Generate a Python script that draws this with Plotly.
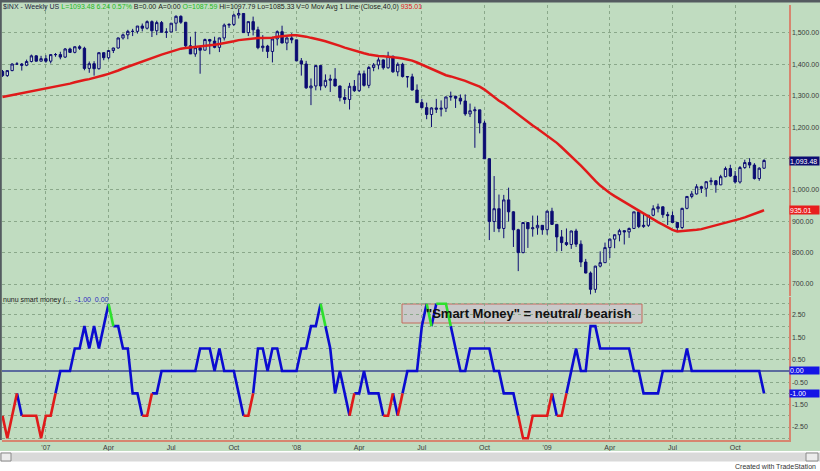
import numpy as np
import pandas as pd
import plotly.graph_objects as go

# ---------------- data ----------------
first_week = "2006-11-03"
n_weeks = 159
week_dates = pd.date_range(first_week, periods=n_weeks, freq="W-FRI")

opens = [1377, 1364, 1380, 1401, 1401, 1397, 1409, 1427, 1410, 1418,
         1410, 1431, 1431, 1423, 1449, 1438, 1456, 1451, 1387, 1402,
         1386, 1437, 1421, 1444, 1452, 1484, 1494, 1505, 1505, 1522,
         1515, 1536, 1507, 1533, 1502, 1503, 1531, 1553, 1534, 1459,
         1433, 1453, 1445, 1479, 1474, 1454, 1484, 1525, 1527, 1557,
         1562, 1501, 1536, 1510, 1453, 1458, 1441, 1481, 1504, 1468,
         1484, 1478, 1411, 1401, 1325, 1331, 1396, 1331, 1349, 1353,
         1331, 1294, 1288, 1330, 1316, 1370, 1333, 1390, 1398, 1414,
         1389, 1426, 1376, 1400, 1361, 1360, 1318, 1278, 1262, 1240,
         1261, 1257, 1260, 1296, 1298, 1292, 1283, 1242, 1252, 1255,
         1213, 1099, 899, 940, 877, 968, 930, 873, 800, 896,
         876, 879, 887, 873, 932, 890, 850, 832, 826, 869,
         827, 770, 735, 683, 757, 768, 816, 843, 857, 870,
         866, 877, 930, 883, 887, 919, 940, 946, 921, 918,
         896, 880, 941, 979, 987, 1010, 1005, 1026, 1029, 1016,
         1042, 1068, 1044, 1025, 1071, 1087, 1079, 1036, 1069]

highs = [1382, 1381, 1403, 1407, 1404, 1415, 1431, 1429, 1427, 1429,
         1432, 1436, 1440, 1452, 1453, 1457, 1461, 1456, 1409, 1410,
         1438, 1438, 1444, 1453, 1485, 1498, 1510, 1513, 1522, 1530,
         1540, 1540, 1539, 1538, 1515, 1531, 1556, 1556, 1535, 1488,
         1504, 1456, 1482, 1481, 1488, 1485, 1530, 1531, 1561, 1576,
         1563, 1536, 1552, 1520, 1493, 1462, 1488, 1508, 1523, 1486,
         1499, 1478, 1420, 1411, 1355, 1396, 1396, 1368, 1367, 1388,
         1332, 1321, 1341, 1350, 1380, 1380, 1395, 1404, 1422, 1416,
         1440, 1427, 1406, 1405, 1362, 1370, 1336, 1290, 1278, 1263,
         1290, 1285, 1297, 1313, 1300, 1304, 1304, 1275, 1265, 1255,
         1220, 1101, 1044, 985, 984, 1007, 932, 876, 897, 897,
         918, 918, 888, 934, 943, 890, 872, 877, 870, 876,
         839, 780, 740, 758, 804, 832, 845, 858, 876, 871,
         880, 930, 931, 924, 920, 951, 956, 947, 930, 931,
         898, 943, 980, 996, 1018, 1013, 1027, 1039, 1031, 1048,
         1074, 1080, 1060, 1076, 1096, 1101, 1085, 1072, 1097.79]

lows = [1360, 1360, 1378, 1398, 1380, 1394, 1406, 1409, 1409, 1405,
        1403, 1424, 1416, 1420, 1437, 1435, 1446, 1381, 1373, 1364,
        1383, 1413, 1416, 1436, 1450, 1479, 1480, 1490, 1498, 1505,
        1511, 1487, 1493, 1502, 1484, 1503, 1506, 1529, 1451, 1433,
        1424, 1370, 1445, 1432, 1451, 1439, 1476, 1516, 1522, 1546,
        1500, 1490, 1492, 1448, 1440, 1420, 1406, 1460, 1467, 1445,
        1467, 1411, 1364, 1322, 1270, 1317, 1317, 1325, 1312, 1330,
        1282, 1274, 1256, 1312, 1312, 1329, 1324, 1378, 1384, 1383,
        1386, 1373, 1362, 1358, 1326, 1317, 1277, 1260, 1225, 1200,
        1245, 1234, 1248, 1284, 1261, 1272, 1236, 1232, 1134, 1180,
        1099, 840, 866, 865, 846, 899, 818, 741, 798, 815,
        851, 857, 857, 857, 888, 804, 805, 821, 812, 818,
        754, 734, 667, 672, 753, 767, 783, 814, 836, 826,
        847, 876, 878, 879, 882, 916, 928, 911, 888, 895,
        869, 875, 938, 973, 985, 990, 978, 1015, 991, 1015,
        1040, 1041, 1020, 1020, 1067, 1069, 1033, 1029, 1067]

closes = [1364, 1380, 1401, 1401, 1397, 1409, 1427, 1410, 1418, 1410,
          1431, 1431, 1423, 1449, 1438, 1456, 1451, 1387, 1402, 1386,
          1437, 1421, 1444, 1452, 1484, 1494, 1505, 1505, 1522, 1515,
          1536, 1507, 1533, 1502, 1503, 1531, 1553, 1534, 1459, 1433,
          1453, 1445, 1479, 1474, 1454, 1484, 1525, 1527, 1557, 1562,
          1501, 1536, 1510, 1453, 1458, 1441, 1481, 1504, 1468, 1484,
          1478, 1411, 1401, 1325, 1331, 1396, 1331, 1349, 1353, 1331,
          1294, 1288, 1330, 1316, 1370, 1333, 1390, 1398, 1414, 1389,
          1426, 1376, 1400, 1361, 1360, 1318, 1278, 1262, 1240, 1261,
          1257, 1260, 1296, 1298, 1292, 1283, 1242, 1252, 1255, 1213,
          1099, 899, 940, 877, 968, 930, 873, 800, 896, 876,
          879, 887, 873, 932, 890, 850, 832, 826, 869, 827,
          770, 735, 683, 757, 768, 816, 843, 857, 870, 866,
          877, 930, 883, 887, 919, 940, 946, 921, 918, 896,
          880, 941, 979, 987, 1010, 1005, 1026, 1029, 1016, 1042,
          1068, 1044, 1025, 1071, 1087, 1079, 1036, 1069, 1093.48]

# 39 weekly closes before the first visible bar (feed the 40-week average)
prior_closes = [1264, 1267, 1288, 1289, 1287, 1282, 1307, 1302, 1295, 1295,
                1289, 1311, 1311, 1326, 1291, 1267, 1280, 1288, 1253, 1252,
                1245, 1270, 1265, 1236, 1240, 1278, 1280, 1267, 1302, 1296,
                1311, 1299, 1320, 1314, 1336, 1350, 1366, 1368, 1377]
ma_length = 40

smart_money = [-2, -3, -2, -1, -2, -2, -2, -2, -3, -2,
               -2, -1, 0, 0, 0, 1, 1, 2, 1, 2,
               1, 2, 3, 2, 2, 1, 1, -1, -1, -2,
               -2, -1, -1, 0, 0, 0, 0, 0, 0, 0,
               0, 1, 1, 1, 0, 1, 0, 0, 0, -1,
               -2, -2, -1, 1, 1, 0, 1, 1, 0, 0,
               0, 0, 1, 1, 2, 2, 3, 2, 1, -1,
               0, -1, -2, -1, -1, 0, -1, -1, -1, -2,
               -2, -1, -2, -1, 0, 0, 0, 2, 3, 2,
               3, 3, 3, 2, 1, 0, 0, 1, 1, 1,
               1, 1, 0, 0, -1, -1, -1, -2, -3, -3,
               -2, -2, -2, -2, -1, -2, -2, -1, 0, 1,
               0, 0, 2, 2, 1, 1, 1, 1, 1, 1,
               1, 0, 0, -1, -1, -1, -1, 0, 0, 0,
               0, 0, 1, 0, 0, 0, 0, 0, 0, 0,
               0, 0, 0, 0, 0, 0, 0, 0, -1]

tick_dates = ["2007-01-05", "2007-04-06", "2007-07-06", "2007-10-05",
              "2008-01-04", "2008-04-04", "2008-07-04", "2008-10-03",
              "2009-01-02", "2009-04-03", "2009-07-03", "2009-10-02"]
tick_text = ["'07", "Apr", "Jul", "Oct", "'08", "Apr", "Jul", "Oct",
             "'09", "Apr", "Jul", "Oct"]
price_ticks = [700, 800, 900, 1000, 1100, 1200, 1300, 1400, 1500]
price_tick_hidden = [1100]
sm_ticks = [-3.0, -2.5, -2.0, -1.5, -1.0, -0.5, 0.0, 0.5, 1.0, 1.5, 2.0, 2.5, 3.0]
sm_tick_shown = [-2.5, -1.5, -0.5, 0.5, 1.5, 2.5]

last_price_label = "1,093.48"
ma_label = "935.01"
sm_last_label = "-1.00"
sm_zero_label = "0.00"
header_values = ["$INX - Weekly", "US", "L=1093.48", "6.24", "0.57%", "B=0.00",
                 "A=0.00", "O=1087.59", "Hi=1097.79", "Lo=1085.33", "V=0",
                 "Mov Avg 1 Line (Close,40,0)", "935.01"]
box_text = '"Smart Money" = neutral/ bearish'

# ---------------- derived study ----------------
ma_full = pd.Series(prior_closes + closes).rolling(ma_length).mean().to_numpy()
ma40 = ma_full[len(prior_closes):]

# ---------------- geometry / style ----------------
W, H = 820, 471
L_PX, R_PX, T_PX, B_PX = 2, 789, 5, 440
BAR0_PX, BAR_PX = 2.5, 4.82
UP_BOTTOM_PX, LO_TOP_PX = 296, 297

def pxx(px):
    return (px - L_PX) / (R_PX - L_PX)

def pxy(py):
    return (B_PX - py) / (B_PX - T_PX)

BG = "#c0dcc0"
GRID = "#8aa88a"
AXRED = "#d7856f"
NAVY = "#0c0c72"
BLUE = "#0b0bd0"
RED = "#e01a1a"
GREEN = "#2de02d"
FONT = "Arial, Liberation Sans, sans-serif"

x_start = week_dates[0] + pd.Timedelta(days=7 * (L_PX - BAR0_PX) / BAR_PX)
x_end = week_dates[0] + pd.Timedelta(days=7 * (R_PX - BAR0_PX) / BAR_PX)

fig = go.Figure()

fig.add_trace(go.Candlestick(
    x=week_dates, open=opens, high=highs, low=lows, close=closes,
    xaxis="x", yaxis="y", hoverinfo="skip",
    increasing=dict(line=dict(color=NAVY, width=1), fillcolor="rgba(228,242,228,0.6)"),
    decreasing=dict(line=dict(color=NAVY, width=1), fillcolor=NAVY),
    showlegend=False))

fig.add_trace(go.Scatter(x=week_dates, y=ma40, mode="lines", xaxis="x", yaxis="y",
                         line=dict(color=RED, width=2.5), hoverinfo="skip",
                         showlegend=False))

# smart-money line, segments coloured by the starting bar's value
def seg_color(v):
    if v <= -2:
        return RED
    if v >= 3:
        return GREEN
    return BLUE

runs = {BLUE: ([], []), RED: ([], []), GREEN: ([], [])}
i = 0
n = len(smart_money)
while i < n - 1:
    c = seg_color(smart_money[i])
    j = i
    while j < n - 1 and seg_color(smart_money[j]) == c:
        j += 1
    xs, ys = runs[c]
    xs.extend(list(week_dates[i:j + 1]) + [None])
    ys.extend(list(smart_money[i:j + 1]) + [None])
    i = j

for c in (BLUE, RED, GREEN):
    xs, ys = runs[c]
    fig.add_trace(go.Scatter(x=xs, y=ys, mode="lines", xaxis="x2", yaxis="y2",
                             line=dict(color=c, width=2.6), hoverinfo="skip",
                             connectgaps=False, showlegend=False))

price_text = ["" if v in price_tick_hidden else f"{v:,.2f}" for v in price_ticks]
sm_text = [f"{v:.2f}" if v in sm_tick_shown else "" for v in sm_ticks]

axis_font = dict(family=FONT, size=7, color="#3a3a3a")

fig.update_layout(
    width=W, height=H, autosize=False,
    margin=dict(l=L_PX, r=W - R_PX, t=T_PX, b=H - B_PX, pad=0),
    paper_bgcolor=BG, plot_bgcolor=BG,
    showlegend=False,
    xaxis=dict(domain=[0, 1], anchor="y", type="date", range=[x_start, x_end],
               tickvals=tick_dates, showticklabels=False, ticks="",
               showgrid=True, gridcolor=GRID, griddash="dot", gridwidth=1,
               showline=False, zeroline=False, rangeslider=dict(visible=False)),
    yaxis=dict(domain=[pxy(UP_BOTTOM_PX), 1], anchor="x", side="right",
               range=[661.8, 1589], tickvals=price_ticks, ticktext=price_text,
               tickfont=axis_font, ticks="", showgrid=True, gridcolor=GRID,
               griddash="dot", gridwidth=1, zeroline=False,
               showline=True, linecolor=AXRED, linewidth=1.5),
    xaxis2=dict(domain=[0, 1], anchor="y2", type="date", range=[x_start, x_end],
                matches="x", tickvals=tick_dates, ticktext=tick_text,
                tickfont=axis_font, ticks="", showgrid=True, gridcolor=GRID,
                griddash="dot", gridwidth=1, showline=True, linecolor=AXRED,
                linewidth=1.5, zeroline=False),
    yaxis2=dict(domain=[0, pxy(LO_TOP_PX)], anchor="x2", side="right",
                range=[-3.08, 3.30], tickvals=sm_ticks, ticktext=sm_text,
                tickfont=axis_font, ticks="", showgrid=True, gridcolor=GRID,
                griddash="dot", gridwidth=1, zeroline=True,
                zerolinecolor="#5b6b9e", zerolinewidth=2,
                showline=True, linecolor=AXRED, linewidth=1.5),
)

shapes = [
    # dark frame top & left
    dict(type="rect", xref="paper", yref="paper", x0=pxx(0), x1=pxx(W),
         y0=pxy(2.5), y1=pxy(0), fillcolor="#545b60", line=dict(width=0), layer="above"),
    dict(type="rect", xref="paper", yref="paper", x0=pxx(0), x1=pxx(1.8),
         y0=pxy(B_PX), y1=pxy(0), fillcolor="#545b60", line=dict(width=0), layer="above"),
    # bottom white strip + scroll bar
    dict(type="rect", xref="paper", yref="paper", x0=pxx(0), x1=pxx(W),
         y0=pxy(H), y1=pxy(451), fillcolor="#ffffff", line=dict(width=0)),
    dict(type="rect", xref="paper", yref="paper", x0=pxx(0), x1=pxx(W),
         y0=pxy(461.5), y1=pxy(452.5), fillcolor="#d9d9d9", line=dict(width=0)),
    dict(type="rect", xref="paper", yref="paper", x0=pxx(1), x1=pxx(11),
         y0=pxy(461), y1=pxy(453), fillcolor="#ececec", line=dict(color="#8a8a8a", width=1)),
    dict(type="rect", xref="paper", yref="paper", x0=pxx(806), x1=pxx(818),
         y0=pxy(461), y1=pxy(453), fillcolor="#ececec", line=dict(color="#8a8a8a", width=1)),
    # "Smart Money" comment box
    dict(type="rect", xref="paper", yref="paper", x0=pxx(402), x1=pxx(642),
         y0=pxy(323), y1=pxy(304), fillcolor="#c9c9c9",
         line=dict(color="#c46a5c", width=1), layer="between"),
]
fig.update_layout(shapes=shapes)

NB = "\u00a0"
hdr = (f'<span style="color:#1c1c40">{header_values[0]}{NB}{header_values[1]}</span>{NB}'
       f'<span style="color:#22b822">{header_values[2]}{NB}{header_values[3]}{NB}{header_values[4]}</span>{NB}'
       f'{header_values[5]}{NB}{header_values[6]}{NB}'
       f'<span style="color:#22b822">{header_values[7]}</span>{NB}'
       f'{header_values[8]}{NB}{header_values[9]}{NB}{header_values[10]}{NB}{header_values[11]}{NB}'
       f'<span style="color:#e02020">{header_values[12]}</span>')

annos = [
    dict(text=hdr, xref="paper", yref="paper", x=pxx(1), y=pxy(6.5),
         xanchor="left", yanchor="middle", showarrow=False,
         font=dict(family=FONT, size=7, color="#202020")),
    dict(text='nunu smart money (...' + NB + NB + '<span style="color:#2a2ac0">-1.00' + NB + NB + '0.00</span>',
         xref="paper", yref="paper", x=pxx(1), y=pxy(299.5),
         xanchor="left", yanchor="middle", showarrow=False,
         font=dict(family=FONT, size=7, color="#202020")),
    dict(text=f"<b>{box_text}</b>", xref="paper", yref="paper",
         x=pxx(529), y=pxy(313.8), xanchor="center", yanchor="middle",
         showarrow=False, font=dict(family=FONT, size=13, color="#111111")),
    dict(text="Created with TradeStation", xref="paper", yref="paper",
         x=pxx(818), y=pxy(466.5), xanchor="right", yanchor="middle",
         showarrow=False, font=dict(family=FONT, size=7, color="#333333")),
    # value boxes on the right scale
    dict(text=last_price_label, xref="paper", yref="y", x=pxx(789.5), y=closes[-1],
         xanchor="left", yanchor="middle", showarrow=False, align="left",
         width=29, height=8, bgcolor=NAVY, borderpad=0,
         font=dict(family=FONT, size=7, color="#ffffff")),
    dict(text=ma_label, xref="paper", yref="y", x=pxx(789.5), y=ma40[-1],
         xanchor="left", yanchor="middle", showarrow=False, align="left",
         width=29, height=8, bgcolor="#e81e1e", borderpad=0,
         font=dict(family=FONT, size=7, color="#ffffff")),
    dict(text=sm_zero_label, xref="paper", yref="y2", x=pxx(789.5), y=0,
         xanchor="left", yanchor="middle", showarrow=False, align="left",
         width=29, height=7, bgcolor="#1414e6", borderpad=0,
         font=dict(family=FONT, size=7, color="#ffffff")),
    dict(text=sm_last_label, xref="paper", yref="y2", x=pxx(789.5), y=smart_money[-1],
         xanchor="left", yanchor="middle", showarrow=False, align="left",
         width=29, height=7, bgcolor="#1414e6", borderpad=0,
         font=dict(family=FONT, size=7, color="#ffffff")),
]
fig.update_layout(annotations=annos)

fig.write_html("out.html", config={"displayModeBar": False, "staticPlot": True},
               post_script="document.body.style.margin='0px';document.body.style.overflow='hidden';")
